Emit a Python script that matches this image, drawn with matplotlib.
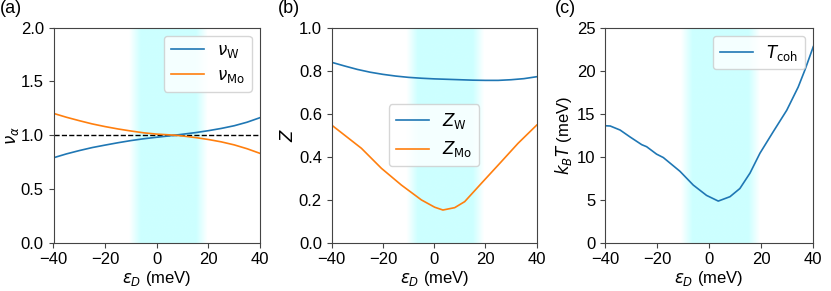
import numpy as np
import matplotlib
matplotlib.use("Agg")
import matplotlib.pyplot as plt

# Panel (a)
eps_a = [-40, -35, -30, -25, -20, -15, -10, -5, 0, 5, 7, 10, 15, 20, 25, 30, 35, 40]
nu_W = [0.79, 0.826, 0.857, 0.885, 0.908, 0.93, 0.95, 0.967, 0.981, 0.994, 1.0,
        1.009, 1.024, 1.042, 1.063, 1.088, 1.121, 1.163]
nu_Mo = [1.203, 1.167, 1.135, 1.105, 1.08, 1.058, 1.039, 1.022, 1.01, 1.003, 1.0,
         0.993, 0.978, 0.96, 0.938, 0.91, 0.874, 0.831]

# Panel (b)
eps_b = [-40, -35, -30, -25, -20, -15, -10, -5, 0, 5, 10, 15, 20, 25, 30, 35, 40]
Z_W = [0.839, 0.822, 0.806, 0.793, 0.783, 0.775, 0.769, 0.765, 0.762, 0.760, 0.758,
       0.756, 0.755, 0.755, 0.758, 0.763, 0.772]
eps_bm = [-40, -28.4, -20.6, -12.8, -5, 0.2, 3.4, 8, 11.9, 18.4, 26.2, 32.7, 40]
Z_Mo = [0.547, 0.439, 0.346, 0.268, 0.199, 0.165, 0.152, 0.163, 0.191, 0.276, 0.377,
        0.462, 0.547]

# Panel (c)
eps_c = [-40, -38, -34.2, -30.4, -25.9, -24, -20.2, -17.6, -11.2, -6.1, -1, 3.5, 8,
         11.8, 15.7, 19.5, 24.6, 29.8, 34.2, 36.8, 40]
T_coh = [13.6, 13.57, 13.1, 12.3, 11.4, 11.16, 10.3, 9.9, 8.3, 6.7, 5.5, 4.84, 5.35,
         6.3, 8.1, 10.4, 12.9, 15.4, 18.1, 20.1, 22.8]

band_x = [-11, -6.5, 15, 19.5]

plt.rcParams['font.family'] = ['Liberation Sans', 'DejaVu Sans']
plt.rcParams['mathtext.fontset'] = 'dejavusans'
plt.rcParams['font.size'] = 12
fig = plt.figure(figsize=(8.31, 2.91), dpi=100)

W, H = 831, 291
def add_ax(l, r, t=27.7, b=242.7):
    return fig.add_axes([l / W, 1 - b / H, (r - l) / W, (b - t) / H])

axa = add_ax(53.5, 260)
axb = add_ax(331.7, 536.7)
axc = add_ax(605, 813.3)

def band(ax, ymax):
    xs = np.linspace(-40, 40, 801)
    a = np.interp(xs, band_x, [0, 1, 1, 0], left=0, right=0)
    img = np.zeros((1, len(xs), 4))
    img[..., 1] = 1.0
    img[..., 2] = 1.0
    img[0, :, 3] = a * 0.2
    ax.imshow(img, extent=(-40, 40, 0, ymax), aspect='auto', zorder=0,
              interpolation='bilinear')

band(axa, 2.0)
axa.axhline(1.0, color='k', ls='--', lw=1.0, zorder=1)
axa.plot(eps_a, nu_W, color='C0', label=r'$\nu_{\rm W}$', lw=1.2)
axa.plot(eps_a, nu_Mo, color='C1', label=r'$\nu_{\rm Mo}$', lw=1.2)
axa.set_xlim(-40, 40)
axa.set_ylim(0, 2.0)
axa.set_yticks([0, 0.5, 1.0, 1.5, 2.0])
axa.set_ylabel(r'$\nu_\alpha$', labelpad=0)
axa.set_xlabel(r'$\epsilon_D$ (meV)', labelpad=1)
axa.legend(loc='upper right')

band(axb, 1.0)
axb.plot(eps_b, Z_W, color='C0', label=r'$Z_{\rm W}$', lw=1.2)
axb.plot(eps_bm, Z_Mo, color='C1', label=r'$Z_{\rm Mo}$', lw=1.2)
axb.set_xlim(-40, 40)
axb.set_ylim(0, 1.0)
axb.set_ylabel(r'$Z$', labelpad=2)
axb.set_xlabel(r'$\epsilon_D$ (meV)', labelpad=1)
axb.legend(loc='center')

band(axc, 25)
axc.plot(eps_c, T_coh, color='C0', label=r'$T_{\rm coh}$', lw=1.2)
axc.set_xlim(-40, 40)
axc.set_ylim(0, 25)
axc.set_ylabel(r'$k_BT$ (meV)', labelpad=2)
axc.set_xlabel(r'$\epsilon_D$ (meV)', labelpad=1)
axc.legend(loc='upper right')

for ax in (axa, axb, axc):
    ax.set_xticks([-40, -20, 0, 20, 40])
    for s in ax.spines.values():
        s.set_color('#444444')
    ax.tick_params(color='#444444')

fig.text(0 / W, 1 - 0 / H, '(a)', ha='left', va='top', fontsize=13)
fig.text(278 / W, 1 - 0 / H, '(b)', ha='left', va='top', fontsize=13)
fig.text(555 / W, 1 - 0 / H, '(c)', ha='left', va='top', fontsize=13)

fig.savefig('out.png', dpi=100)
